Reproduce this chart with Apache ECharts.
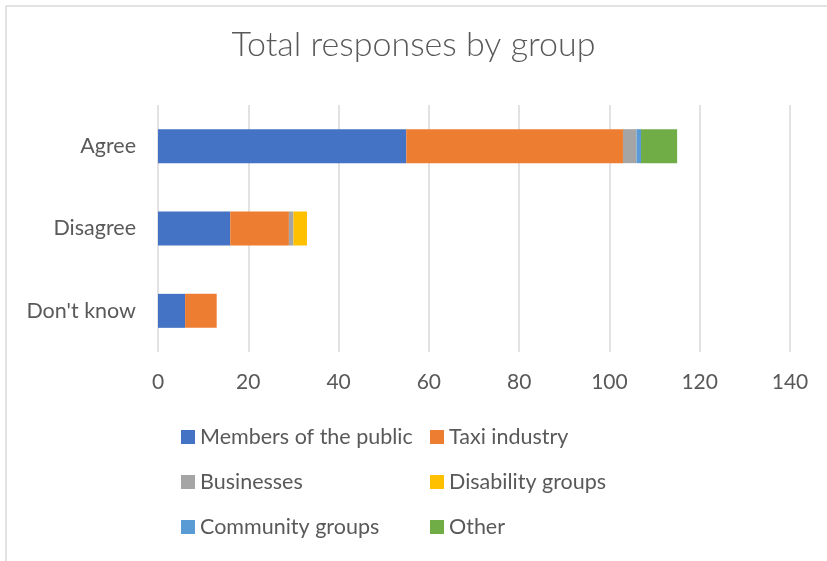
<!DOCTYPE html>
<html>
<head>
<meta charset="utf-8">
<script src="https://cdn.jsdelivr.net/npm/echarts@6/dist/echarts.min.js"></script>
<style>html,body{margin:0;padding:0;background:#fff;}#c{width:827px;height:561px;}</style>
</head>
<body>
<div id="c"></div>
<script>
var categories = ["Agree", "Disagree", "Don't know"];
var seriesNames = ["Members of the public", "Taxi industry", "Businesses", "Disability groups", "Community groups", "Other"];
var membersOfPublic = [55, 16, 6];
var taxiIndustry = [48, 13, 7];
var businesses = [3, 1, 0];
var disabilityGroups = [0, 3, 0];
var communityGroups = [1, 0, 0];
var other = [8, 0, 0];
var xTicks = [0, 20, 40, 60, 80, 100, 120, 140];

var colors = ["#4472C4", "#ED7D31", "#A5A5A5", "#FFC000", "#5B9BD5", "#70AD47"];
var values = [membersOfPublic, taxiIndustry, businesses, disabilityGroups, communityGroups, other];
var font = "Lato";
var txt = "#595959";

var chart = echarts.init(document.getElementById('c'), null, {renderer: 'canvas'});
var series = seriesNames.map(function (n, i) {
  return {
    name: n, type: 'bar', stack: 'total', barWidth: 34,
    itemStyle: {color: colors[i]},
    data: values[i]
  };
});
var legendText = {fontFamily: font, fontSize: 21.5, color: txt, lineHeight: 22};
chart.setOption({
  animation: false,
  color: colors,
  title: {
    text: 'Total responses by group', left: 'center', top: 28, padding: 0,
    textStyle: {fontFamily: font, fontSize: 34, fontWeight: 300, color: txt}
  },
  grid: {left: 158, right: 37, top: 105, bottom: 209, containLabel: false},
  xAxis: {
    type: 'value', min: xTicks[0], max: xTicks[xTicks.length - 1], interval: 20,
    axisLine: {show: false}, axisTick: {show: false},
    splitLine: {lineStyle: {color: '#D9D9D9', width: 1.5}},
    axisLabel: {fontFamily: font, fontSize: 21, color: txt, margin: 20}
  },
  yAxis: {
    type: 'category', data: categories, inverse: true,
    axisLine: {show: false}, axisTick: {show: false},
    axisLabel: {fontFamily: font, fontSize: 21.5, color: txt, margin: 22}
  },
  legend: [
    {
      orient: 'vertical', left: 181, top: 426, padding: 0, itemWidth: 14, itemHeight: 14, itemGap: 23,
      icon: 'rect', textStyle: legendText,
      data: [seriesNames[0], seriesNames[2], seriesNames[4]]
    },
    {
      orient: 'vertical', left: 430, top: 426, padding: 0, itemWidth: 14, itemHeight: 14, itemGap: 23,
      icon: 'rect', textStyle: legendText,
      data: [seriesNames[1], seriesNames[3], seriesNames[5]]
    }
  ],
  graphic: [
    {type: 'line', shape: {x1: 6, y1: 6, x2: 827, y2: 6}, style: {stroke: '#D9D9D9', lineWidth: 1.5}},
    {type: 'line', shape: {x1: 6, y1: 6, x2: 6, y2: 561}, style: {stroke: '#D9D9D9', lineWidth: 1.5}}
  ],
  series: series
});
</script>
</body>
</html>
